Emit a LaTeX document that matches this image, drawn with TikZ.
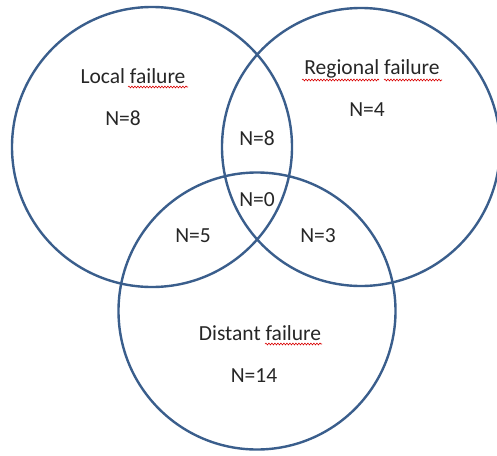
\documentclass[tikz,border=0pt]{standalone}
\usepackage{fontspec}
\setmainfont{Carlito}
\usetikzlibrary{decorations.pathmorphing}
\definecolor{ringblue}{HTML}{3A5E8C}
\definecolor{txt}{HTML}{262626}
\begin{document}
\begin{tikzpicture}[x=1pt,y=-1pt,
  ring/.style={circle,draw=ringblue,line width=2.4pt,inner sep=0pt},
  lbl/.style={font=\fontsize{21.5}{25}\selectfont,text=txt,inner sep=0pt},
  spell/.style={draw=red!85!black,line width=0.6pt,decorate,decoration={snake,amplitude=0.9pt,segment length=3pt}}]
\useasboundingbox (0,0) rectangle (497,455);
\clip (0,0) rectangle (497,455);
\node[ring,minimum size=280pt] (local) at (152,147) {};
\node[ring,minimum size=278pt] (regional) at (361,147) {};
\node[ring,minimum size=277pt] (distant) at (257,311) {};
\node[lbl] (tlocal) at (133,76) {Local failure};
\node[lbl] (nlocal) at (123,118) {N=8};
\node[lbl] (tregional) at (372,69) {Regional failure};
\node[lbl] (nregional) at (367,110) {N=4};
\node[lbl] (nlr) at (257,138) {N=8};
\node[lbl] (nall) at (257,200) {N=0};
\node[lbl] (nld) at (193,236) {N=5};
\node[lbl] (nrd) at (318,236) {N=3};
\node[lbl] (tdistant) at (260,333) {Distant failure};
\node[lbl] (ndistant) at (254,376) {N=14};
\coordinate (s1a) at (128,87); \coordinate (s1b) at (188,87);
\coordinate (s2a) at (302,80); \coordinate (s2b) at (379,80);
\coordinate (s3a) at (384,80); \coordinate (s3b) at (442,80);
\coordinate (s4a) at (265,344); \coordinate (s4b) at (322,344);
\path[spell] (s1a) -- (s1b);
\path[spell] (s2a) -- (s2b);
\path[spell] (s3a) -- (s3b);
\path[spell] (s4a) -- (s4b);
\end{tikzpicture}
\end{document}
